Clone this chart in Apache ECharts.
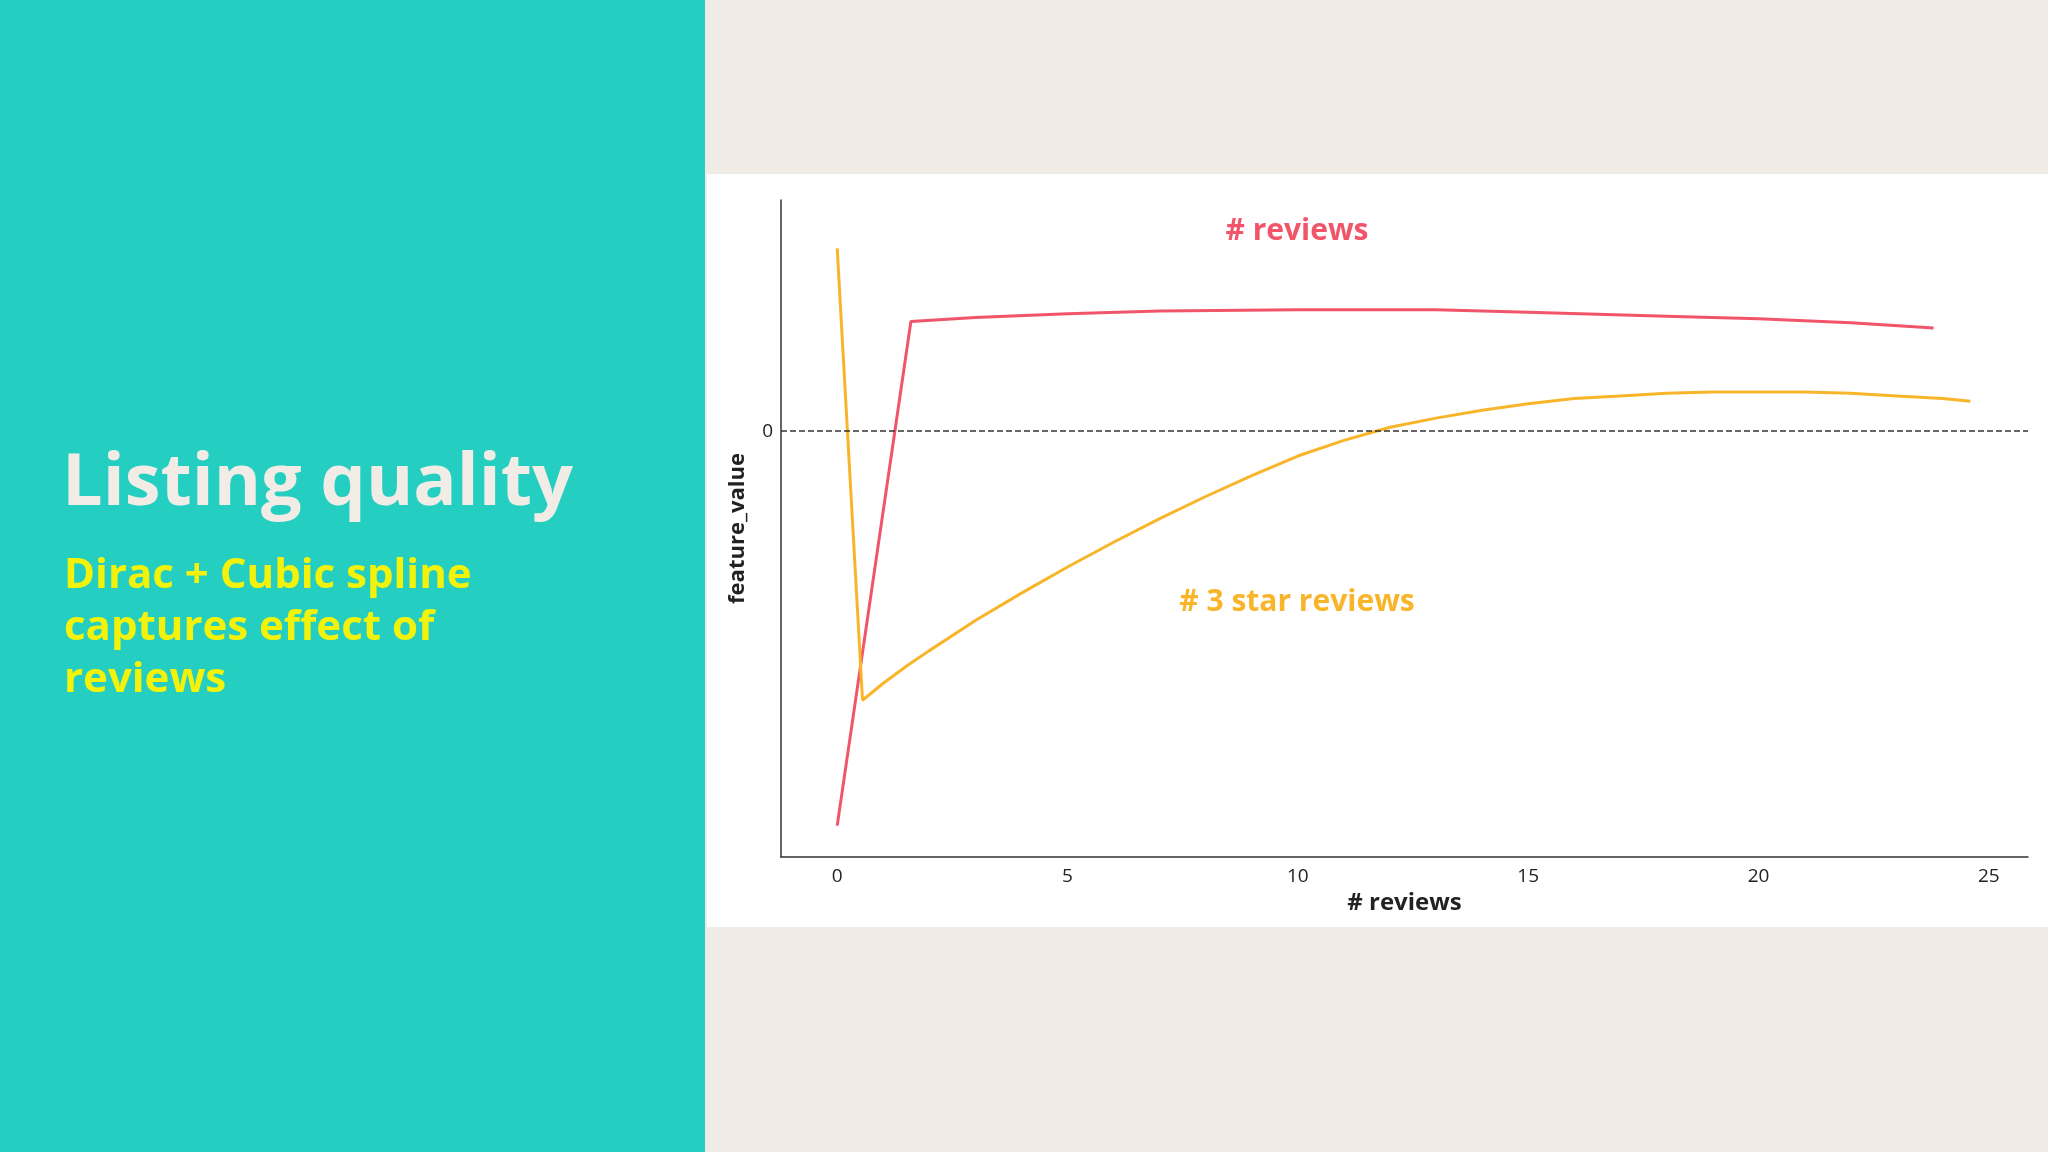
<!DOCTYPE html>
<html><head><meta charset="utf-8">
<script src="https://cdn.jsdelivr.net/npm/echarts@6/dist/echarts.min.js"></script>
<style>html,body{margin:0;padding:0;background:#F0EBE5}#c{width:2048px;height:1152px}</style>
</head><body><div id="c"></div>
<script>
const reviewsX = [0, 1.6, 3, 5, 7, 10, 13, 15, 18, 20, 22, 23.8];
const reviewsY = [-3.02, 0.84, 0.87, 0.9, 0.92, 0.93, 0.93, 0.91, 0.88, 0.86, 0.83, 0.79];
const star3X = [0, 0.55, 1, 1.5, 2, 3, 4, 5, 6, 7, 8, 9, 10, 11, 12, 13, 14, 15, 16, 17, 18, 19, 20, 21, 22, 23, 24, 24.6];
const star3Y = [1.40, -2.06, -1.93, -1.8, -1.68, -1.45, -1.24, -1.04, -0.85, -0.67, -0.5, -0.34, -0.19, -0.07, 0.03, 0.1, 0.16, 0.21, 0.25, 0.27, 0.29, 0.3, 0.3, 0.3, 0.29, 0.27, 0.25, 0.23];
const xTicks = [0, 5, 10, 15, 20, 25];

const chart = echarts.init(document.getElementById('c'));
const pair = (xs, ys) => xs.map((x, i) => [x, ys[i]]);
const font = '"Open Sans", Lato, sans-serif';
chart.setOption({
  animation: false,
  backgroundColor: '#F0EBE5',
  graphic: [
    {type:'rect', shape:{x:0,y:0,width:705,height:1152}, style:{fill:'#24CFC1'}, z:-10},
    {type:'rect', shape:{x:707,y:174,width:1341,height:753}, style:{fill:'#FFFFFF'}, z:-10},
    {type:'text', left:62, top:448, style:{text:'Listing quality', fill:'#F1ECE6', font:'bold 72px '+font}},
    {type:'text', left:64, top:550, style:{text:'Dirac + Cubic spline\ncaptures effect of\nreviews', fill:'#F2F20A', font:'bold 42px '+font, lineHeight:52}},
    {type:'text', x:1297, y:231, style:{text:'# reviews', fill:'#F0556A', font:'bold 30px '+font, align:'center', verticalAlign:'middle'}},
    {type:'text', x:1297, y:602, style:{text:'# 3 star reviews', fill:'#F9B52A', font:'bold 30px '+font, align:'center', verticalAlign:'middle'}}
  ],
  grid: {left:781, right:20, top:200, bottom:295},
  xAxis: {type:'value', min:-1.22, max:25.85, interval:5,
    name:'# reviews', nameLocation:'middle', nameGap:32,
    nameTextStyle:{fontSize:24, fontWeight:'bold', color:'#222', fontFamily:font},
    axisLine:{onZero:false, lineStyle:{color:'#333', width:1.5}}, axisTick:{show:false}, splitLine:{show:false},
    axisLabel:{fontSize:19, color:'#222', fontFamily:font, margin:10,
      customValues: xTicks, formatter: v => String(v)}},
  yAxis: {type:'value', min:-3.26, max:1.77,
    name:'feature_value', nameLocation:'middle', nameGap:32, nameRotate:90,
    nameTextStyle:{fontSize:22, fontWeight:'bold', color:'#222', fontFamily:font},
    axisLine:{show:true, onZero:false, lineStyle:{color:'#333', width:1.5}}, axisTick:{show:false}, splitLine:{show:false},
    axisLabel:{fontSize:19, color:'#222', fontFamily:font, customValues:[0], formatter: v => String(Math.round(v))}},
  series: [
    {type:'line', data:pair(reviewsX, reviewsY), showSymbol:false, smooth:false,
      lineStyle:{color:'#F0556A', width:3}, itemStyle:{color:'#F0556A'},
      markLine:{silent:true, symbol:'none', label:{show:false},
        lineStyle:{color:'#333', type:'dashed', width:1.5}, data:[{yAxis:0}]}},
    {type:'line', data:pair(star3X, star3Y), showSymbol:false, smooth:false,
      lineStyle:{color:'#F9B52A', width:3}, itemStyle:{color:'#F9B52A'}}
  ]
});
</script></body></html>
